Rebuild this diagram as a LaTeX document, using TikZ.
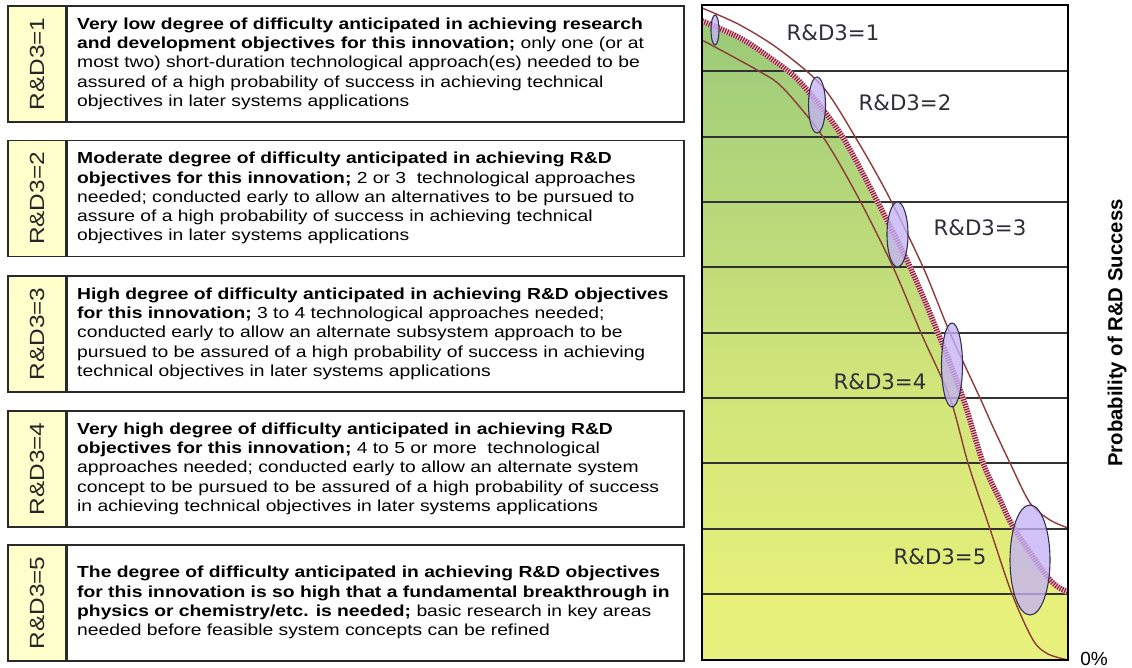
\documentclass[tikz,border=0pt]{standalone}
\usepackage{fontspec}
\setmainfont{Liberation Sans}
\newfontfamily\chartfont{DejaVu Sans}
\usetikzlibrary{shapes.geometric}

\definecolor{stripfill}{HTML}{FFFFCC}
\definecolor{boxline}{HTML}{2A2A2A}
\definecolor{curvebrown}{HTML}{8E3B3B}
\definecolor{hatchpink}{HTML}{F0C4D0}
\definecolor{hatchred}{HTML}{8A1F35}
\definecolor{ellfill}{HTML}{C4B2F6}
\definecolor{ellline}{HTML}{33334F}
\definecolor{labgray}{HTML}{2E2E38}
\definecolor{gA}{HTML}{F4F78E}
\definecolor{gB}{HTML}{E6F07A}
\definecolor{gC}{HTML}{CBE27A}
\definecolor{gD}{HTML}{A5CF7A}
\definecolor{gE}{HTML}{7AB96A}
\definecolor{gF}{HTML}{5FA65E}

\pgfdeclareverticalshading{chartfill}{100bp}{%
  color(0bp)=(gA); color(30bp)=(gB); color(50bp)=(gC);
  color(70bp)=(gD); color(88bp)=(gE); color(100bp)=(gF)}

\tikzset{
  stripbox/.style={draw=boxline, line width=1.5pt, fill=stripfill,
    minimum width=58pt, minimum height=116pt, inner sep=0pt},
  descbox/.style={draw=boxline, line width=1.5pt, fill=white,
    minimum width=617pt, minimum height=116pt, inner sep=0pt, anchor=west},
  striplabel/.style={font=\fontsize{20.5}{20.5}\selectfont, text=black!85},
  desc/.style={inner sep=0pt, anchor=west, text=black,
    font=\fontsize{16}{19.3}\selectfont},
  ell/.style={ellipse, draw=ellline, line width=1.1pt, fill=ellfill,
    fill opacity=0.78, inner sep=0pt},
  clab/.style={font=\chartfont\fontsize{21.3}{21.3}\selectfont, text=labgray},
  bandline/.style={draw=black!80, line width=1.3pt},
  brown/.style={draw=curvebrown, line width=1.4pt},
}

\newcommand{\striptext}[1]{\rotatebox{90}{\scalebox{1.19}[1]{#1}}}
% description text, set as a left-aligned block and widened slightly
\newcommand{\desctext}[1]{\scalebox{1.205}[1]{%
  \begin{tabular}{@{}l@{}}#1\end{tabular}}}

\begin{document}
\begin{tikzpicture}[x=1pt,y=-1pt]
\useasboundingbox (0,0) rectangle (1132,668);

% ---------- left column: difficulty levels ----------
\foreach \i/\c in {1/64,2/198.5,3/334,4/469,5/603}{
  \node[stripbox] (s\i) at (37,\c) {};
  \node[descbox] (b\i) at (66,\c) {};
  \node[striplabel] (n\i) at (s\i.center) {\striptext{R\&D3=\i}};
}

\node[desc] (t1) at ([xshift=11pt]b1.west) {\desctext{%
  \textbf{Very low degree of difficulty anticipated in achieving research}\\
  \textbf{and development objectives for this innovation;} only one (or at\\
  most two) short-duration technological approach(es) needed to be\\
  assured of a high probability of success in achieving technical\\
  objectives in later systems applications}};

\node[desc] (t2) at ([xshift=11pt]b2.west) {\desctext{%
  \textbf{Moderate degree of difficulty anticipated in achieving R\&D}\\
  \textbf{objectives for this innovation;} 2 or 3\ \ technological approaches\\
  needed; conducted early to allow an alternatives to be pursued to\\
  assure of a high probability of success in achieving technical\\
  objectives in later systems applications}};

\node[desc] (t3) at ([xshift=11pt]b3.west) {\desctext{%
  \textbf{High degree of difficulty anticipated in achieving R\&D objectives}\\
  \textbf{for this innovation;} 3 to 4 technological approaches needed;\\
  conducted early to allow an alternate subsystem approach to be\\
  pursued to be assured of a high probability of success in achieving\\
  technical objectives in later systems applications}};

\node[desc] (t4) at ([xshift=11pt]b4.west) {\desctext{%
  \textbf{Very high degree of difficulty anticipated in achieving R\&D}\\
  \textbf{objectives for this innovation;} 4 to 5 or more\ \ technological\\
  approaches needed; conducted early to allow an alternate system\\
  concept to be pursued to be assured of a high probability of success\\
  in achieving technical objectives in later systems applications}};

\node[desc] (t5) at ([xshift=11pt]b5.west) {\desctext{%
  \textbf{The degree of difficulty anticipated in achieving R\&D objectives}\\
  \textbf{for this innovation is so high that a fundamental breakthrough in}\\
  \textbf{physics or chemistry/etc. is needed;} basic research in key areas\\
  needed before feasible system concepts can be refined}};

% ---------- right column: probability chart ----------
\def\hatchpts{(702,21) (740,38) (773,60) (800,82) (840,133) (875,197)
  (910,267) (938,333) (963,398) (983,463) (1000,500) (1015,530)
  (1050,580) (1068,592)}

% shaded area under the central curve
\shade[shading=chartfill] (702,21) -- plot[smooth] coordinates {\hatchpts}
  -- (1068,660) -- (702,660) -- cycle;

% horizontal probability bands
\foreach \y in {71,137,202,267,333,398,463,529,594}
  \draw[bandline] (702,\y) -- (1068,\y);

% upper and lower bounding curves
\draw[brown] plot[smooth] coordinates {(702,8) (740,25) (780,50) (823,87)
  (857,140) (888,195) (923,267) (950,333) (980,398) (993,427) (1010,463)
  (1030,503) (1050,520) (1068,528)};
\draw[brown] plot[smooth] coordinates {(702,40) (757,70) (783,88) (823,137)
  (858,197) (893,267) (921,333) (950,398) (968,463) (990,529) (1012,594)
  (1033,640) (1048,654) (1068,660)};

% central hatched curve
\draw[hatchpink, line width=5.5pt] plot[smooth] coordinates {\hatchpts};
\draw[hatchred, line width=5.5pt, dash pattern=on 1.2pt off 1.3pt]
  plot[smooth] coordinates {\hatchpts};

% uncertainty ellipses
\node[ell, minimum width=8pt,  minimum height=30pt]  (e1) at (715,30) {};
\node[ell, minimum width=17pt, minimum height=56pt]  (e2) at (817,105) {};
\node[ell, minimum width=21pt, minimum height=65pt]  (e3) at (897.5,234.5) {};
\node[ell, minimum width=21pt, minimum height=84pt]  (e4) at (952,365) {};
\node[ell, minimum width=40pt, minimum height=110pt] (e5) at (1030,560) {};

% level labels
\node[clab] (c1) at (833,33)  {R\&D3=1};
\node[clab] (c2) at (905,103) {R\&D3=2};
\node[clab] (c3) at (980,228) {R\&D3=3};
\node[clab] (c4) at (880,382) {R\&D3=4};
\node[clab] (c5) at (940,557) {R\&D3=5};

% chart frame
\draw[black, line width=2pt] (702,5) rectangle (1068,660);

% axis annotations
\node[rotate=90, font=\bfseries\fontsize{20.3}{20.3}\selectfont] (ylab)
  at (1117,333) {Probability of R\&D Success};
\node[font=\fontsize{19}{19}\selectfont] (zero) at (1094,659) {0\%};
\end{tikzpicture}
\end{document}
